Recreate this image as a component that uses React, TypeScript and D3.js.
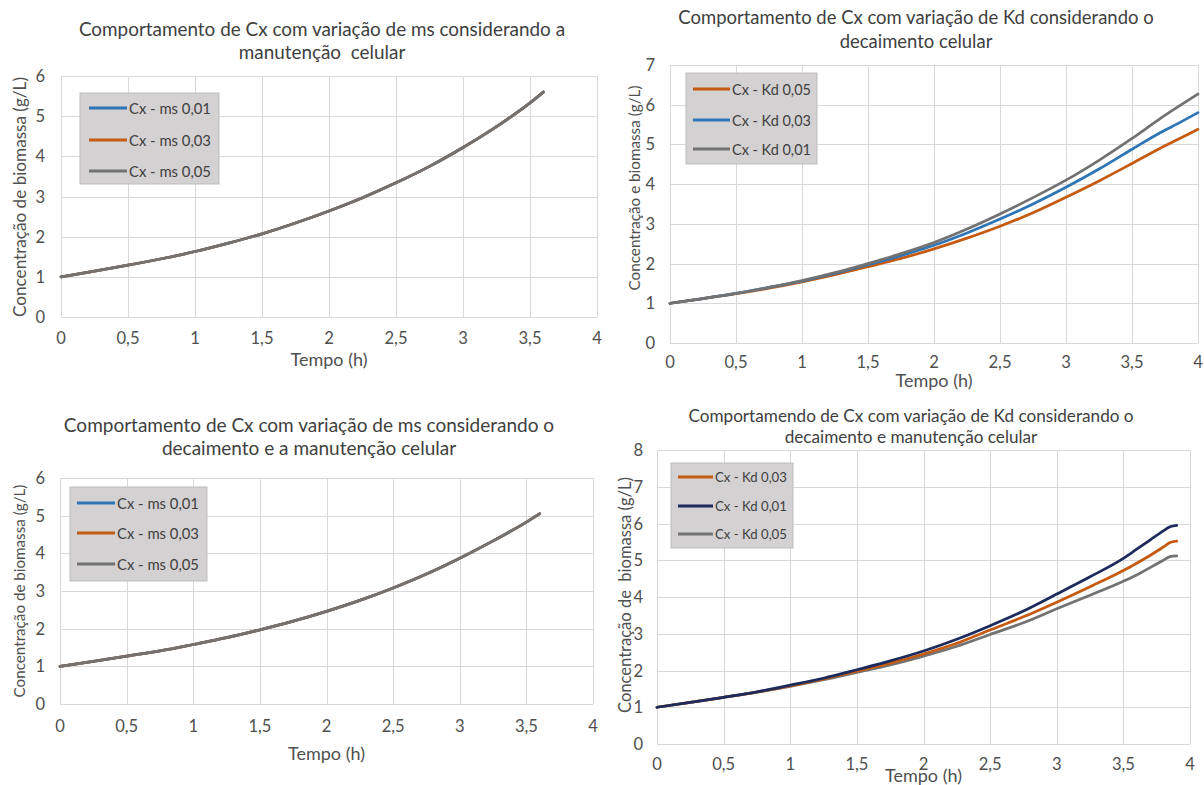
import React from 'react';
import * as d3 from 'd3';

const FONT = 'Lato, "Open Sans", "DejaVu Sans", sans-serif';

// ---------- Data ----------
const xTickValues = [0, 0.5, 1, 1.5, 2, 2.5, 3, 3.5, 4];
const xTickLabels = ['0', '0,5', '1', '1,5', '2', '2,5', '3', '3,5', '4'];

// Panel A: ms variation, cell maintenance
const timeA = [0, 0.25, 0.5, 0.75, 1, 1.25, 1.5, 1.75, 2, 2.25, 2.5, 2.75, 3, 3.25, 3.5, 3.6];
const cxA_ms001 = [1, 1.14, 1.29, 1.45, 1.63, 1.84, 2.07, 2.34, 2.64, 2.97, 3.34, 3.75, 4.22, 4.74, 5.33, 5.6];
const cxA_ms003 = [1, 1.14, 1.29, 1.45, 1.63, 1.84, 2.07, 2.34, 2.64, 2.97, 3.34, 3.75, 4.22, 4.74, 5.33, 5.6];
const cxA_ms005 = [1, 1.14, 1.29, 1.45, 1.63, 1.84, 2.07, 2.34, 2.64, 2.97, 3.34, 3.75, 4.22, 4.74, 5.33, 5.6];

// Panel B: Kd variation, cell decay
const timeB = [0, 0.25, 0.5, 0.75, 1, 1.25, 1.5, 1.75, 2, 2.25, 2.5, 2.75, 3, 3.25, 3.5, 3.7, 3.85, 4];
const cxB_kd005 = [1, 1.12, 1.24, 1.38, 1.54, 1.72, 1.92, 2.13, 2.37, 2.64, 2.94, 3.28, 3.67, 4.08, 4.52, 4.88, 5.13, 5.38];
const cxB_kd003 = [1, 1.12, 1.25, 1.4, 1.56, 1.75, 1.97, 2.2, 2.46, 2.77, 3.12, 3.5, 3.92, 4.38, 4.88, 5.27, 5.53, 5.8];
const cxB_kd001 = [1, 1.12, 1.25, 1.4, 1.57, 1.77, 2.0, 2.25, 2.53, 2.87, 3.25, 3.66, 4.1, 4.6, 5.15, 5.62, 5.95, 6.27];

// Panel C: ms variation, decay and maintenance
const timeC = [0, 0.25, 0.5, 0.75, 1, 1.25, 1.5, 1.75, 2, 2.25, 2.5, 2.75, 3, 3.25, 3.5, 3.6];
const cxC_ms001 = [1, 1.13, 1.27, 1.41, 1.58, 1.76, 1.97, 2.2, 2.46, 2.75, 3.08, 3.45, 3.87, 4.33, 4.83, 5.05];
const cxC_ms003 = [1, 1.13, 1.27, 1.41, 1.58, 1.76, 1.97, 2.2, 2.46, 2.75, 3.08, 3.45, 3.87, 4.33, 4.83, 5.05];
const cxC_ms005 = [1, 1.13, 1.27, 1.41, 1.58, 1.76, 1.97, 2.2, 2.46, 2.75, 3.08, 3.45, 3.87, 4.33, 4.83, 5.05];

// Panel D: Kd variation, decay and maintenance
const timeD = [0, 0.25, 0.5, 0.75, 1, 1.25, 1.5, 1.75, 2, 2.25, 2.5, 2.75, 3, 3.25, 3.5, 3.6, 3.7, 3.8, 3.85, 3.9];
const cxD_kd003 = [1, 1.13, 1.27, 1.41, 1.58, 1.77, 1.98, 2.2, 2.45, 2.74, 3.1, 3.46, 3.86, 4.28, 4.72, 4.92, 5.13, 5.36, 5.48, 5.52];
const cxD_kd001 = [1, 1.13, 1.27, 1.42, 1.6, 1.79, 2.02, 2.26, 2.53, 2.85, 3.22, 3.62, 4.08, 4.55, 5.05, 5.3, 5.55, 5.8, 5.91, 5.95];
const cxD_kd005 = [1, 1.13, 1.27, 1.41, 1.57, 1.75, 1.95, 2.15, 2.39, 2.66, 2.98, 3.3, 3.68, 4.05, 4.43, 4.6, 4.8, 5.0, 5.1, 5.12];

const BLUE = '#2e75b6';
const ORANGE = '#c55a11';
const GRAY = '#727272';
const NAVY = '#1c2a5c';

// ---------- text fitting ----------
let measureCtx: CanvasRenderingContext2D | null = null;
function fit(text: string, width: number): number {
  if (!measureCtx) measureCtx = document.createElement('canvas').getContext('2d');
  if (!measureCtx) return 14;
  measureCtx.font = `100px ${FONT}`;
  const w = measureCtx.measureText(text).width;
  return (100 * width) / w;
}

type Series = { name: string; color: string; x: number[]; y: number[] };
type PanelCfg = {
  title: string[];
  titleCx: number;
  titleY: number[];
  titleW: number;
  left: number; right: number; top: number; bottom: number;
  yMax: number;
  yTitle: string; yTitleX: number; yTitleCy: number; yTitleW: number;
  yTickRight: number;
  xTickY: number;
  xTitleY: number;
  legend: { x: number; y: number; w: number; h: number; rows: number[]; lineX0: number; lineX1: number; textW: number };
  series: Series[]; // legend order
  drawOrder: number[];
};

const panels: PanelCfg[] = [
  {
    title: ['Comportamento de Cx com variação de ms considerando a', 'manutenção\u00a0 celular'],
    titleCx: 322, titleY: [28, 51], titleW: 487,
    left: 61, right: 597, top: 76, bottom: 317, yMax: 6,
    yTitle: 'Concentração de biomassa (g/L)', yTitleX: 19, yTitleCy: 197, yTitleW: 240,
    yTickRight: 45, xTickY: 338, xTitleY: 359,
    legend: { x: 80, y: 93, w: 139, h: 91, rows: [108, 140, 171], lineX0: 89, lineX1: 127, textW: 82 },
    series: [
      { name: 'Cx - ms 0,01', color: BLUE, x: timeA, y: cxA_ms001 },
      { name: 'Cx - ms 0,03', color: ORANGE, x: timeA, y: cxA_ms003 },
      { name: 'Cx - ms 0,05', color: GRAY, x: timeA, y: cxA_ms005 },
    ],
    drawOrder: [0, 1, 2],
  },
  {
    title: ['Comportamento de Cx com variação de Kd considerando o', 'decaimento celular'],
    titleCx: 916, titleY: [17, 41], titleW: 476,
    left: 670, right: 1198, top: 65, bottom: 343, yMax: 7,
    yTitle: 'Concentração e biomassa (g/L)', yTitleX: 634, yTitleCy: 188, yTitleW: 205,
    yTickRight: 655, xTickY: 362, xTitleY: 380,
    legend: { x: 686, y: 73, w: 131, h: 91, rows: [89, 120, 149], lineX0: 693, lineX1: 730, textW: 79 },
    series: [
      { name: 'Cx - Kd 0,05', color: ORANGE, x: timeB, y: cxB_kd005 },
      { name: 'Cx - Kd 0,03', color: BLUE, x: timeB, y: cxB_kd003 },
      { name: 'Cx - Kd 0,01', color: GRAY, x: timeB, y: cxB_kd001 },
    ],
    drawOrder: [0, 1, 2],
  },
  {
    title: ['Comportamento de Cx com variação de ms considerando o', 'decaimento e a manutenção celular'],
    titleCx: 309, titleY: [424, 447], titleW: 491,
    left: 60, right: 593, top: 478, bottom: 704, yMax: 6,
    yTitle: 'Concentração de biomassa (g/L)', yTitleX: 19, yTitleCy: 591, yTitleW: 213,
    yTickRight: 45, xTickY: 726, xTitleY: 753,
    legend: { x: 70, y: 487, w: 137, h: 94, rows: [503, 533, 564], lineX0: 77, lineX1: 115, textW: 82 },
    series: [
      { name: 'Cx - ms 0,01', color: BLUE, x: timeC, y: cxC_ms001 },
      { name: 'Cx - ms 0,03', color: ORANGE, x: timeC, y: cxC_ms003 },
      { name: 'Cx - ms 0,05', color: GRAY, x: timeC, y: cxC_ms005 },
    ],
    drawOrder: [0, 1, 2],
  },
  {
    title: ['Comportamendo de Cx com variação de Kd considerando o', 'decaimento e manutenção celular'],
    titleCx: 911, titleY: [415, 436], titleW: 446,
    left: 657, right: 1190, top: 450, bottom: 744, yMax: 8,
    yTitle: 'Concentração de\u00a0 biomassa (g/L)', yTitleX: 625, yTitleCy: 595, yTitleW: 236,
    yTickRight: 643, xTickY: 764, xTitleY: 775,
    legend: { x: 671, y: 463, w: 122, h: 85, rows: [477, 506, 534], lineX0: 678, lineX1: 713, textW: 72 },
    series: [
      { name: 'Cx - Kd 0,03', color: ORANGE, x: timeD, y: cxD_kd003 },
      { name: 'Cx - Kd 0,01', color: NAVY, x: timeD, y: cxD_kd001 },
      { name: 'Cx - Kd 0,05', color: GRAY, x: timeD, y: cxD_kd005 },
    ],
    drawOrder: [2, 0, 1],
  },
];

const TICK_SIZE = fit('3,5', 23);
const XTITLE_SIZE = fit('Tempo (h)', 77);

function Panel({ cfg }: { cfg: PanelCfg }) {
  const x = d3.scaleLinear().domain([0, 4]).range([cfg.left, cfg.right]);
  const y = d3.scaleLinear().domain([0, cfg.yMax]).range([cfg.bottom, cfg.top]);
  const yTicks = d3.range(0, cfg.yMax + 1, 1);
  const line = d3
    .line<[number, number]>()
    .x((d) => x(d[0]))
    .y((d) => y(d[1]))
    .curve(d3.curveMonotoneX);
  const titleSize = fit(cfg.title[0], cfg.titleW);
  const yTitleSize = fit(cfg.yTitle, cfg.yTitleW);
  const legSize = fit(cfg.series[0].name, cfg.legend.textW);
  const snap = (v: number) => Math.round(v) + 0.5;
  const TXT = '#404040';
  const AX = '#505050';
  return (
    <g>
      {cfg.title.map((t, i) => (
        <text key={i} x={cfg.titleCx} y={cfg.titleY[i]} textAnchor="middle" dominantBaseline="central"
          fontFamily={FONT} fontSize={titleSize} fill={TXT}>{t}</text>
      ))}
      {/* grid */}
      {xTickValues.map((v) => (
        <line key={'vx' + v} x1={snap(x(v))} x2={snap(x(v))} y1={y(cfg.yMax)} y2={y(0)} stroke="#d9d9d9" strokeWidth={1} />
      ))}
      {yTicks.map((v) => (
        <line key={'hy' + v} x1={x(0)} x2={x(4)} y1={snap(y(v))} y2={snap(y(v))} stroke="#d9d9d9" strokeWidth={1} />
      ))}
      {/* ticks */}
      {xTickValues.map((v, i) => (
        <text key={'xt' + v} x={x(v)} y={cfg.xTickY} textAnchor="middle" dominantBaseline="central"
          fontFamily={FONT} fontSize={TICK_SIZE} fill={AX}>{xTickLabels[i]}</text>
      ))}
      {yTicks.map((v) => (
        <text key={'yt' + v} x={cfg.yTickRight} y={y(v)} textAnchor="end" dominantBaseline="central"
          fontFamily={FONT} fontSize={TICK_SIZE} fill={AX}>{String(v)}</text>
      ))}
      <text x={(cfg.left + cfg.right) / 2} y={cfg.xTitleY} textAnchor="middle" dominantBaseline="central"
        fontFamily={FONT} fontSize={XTITLE_SIZE} fill={AX}>Tempo (h)</text>
      <text transform={`translate(${cfg.yTitleX},${cfg.yTitleCy}) rotate(-90)`} textAnchor="middle" dominantBaseline="central"
        fontFamily={FONT} fontSize={yTitleSize} fill={AX}>{cfg.yTitle}</text>
      {/* series */}
      {cfg.drawOrder.map((idx) => {
        const s = cfg.series[idx];
        const pts: [number, number][] = s.x.map((t, i) => [t, s.y[i]]);
        return <path key={'s' + idx} d={line(pts) || ''} fill="none" stroke={s.color} strokeWidth={2.75} strokeLinejoin="round" strokeLinecap="round" />;
      })}
      {/* legend */}
      <rect x={cfg.legend.x} y={cfg.legend.y} width={cfg.legend.w} height={cfg.legend.h} fill="#d3d1d1" stroke="#bdbdbd" strokeWidth={1} />
      {cfg.series.map((s, i) => (
        <g key={'lg' + i}>
          <line x1={cfg.legend.lineX0} x2={cfg.legend.lineX1} y1={cfg.legend.rows[i]} y2={cfg.legend.rows[i]} stroke={s.color} strokeWidth={3} />
          <text x={cfg.legend.lineX1 + 2} y={cfg.legend.rows[i]} dominantBaseline="central" fontFamily={FONT} fontSize={legSize} fill={TXT}>{s.name}</text>
        </g>
      ))}
    </g>
  );
}

export default function App() {
  return (
    <svg width={1204} height={785} viewBox="0 0 1204 785" style={{ position: 'absolute', left: 0, top: 0, background: '#fff' }}>
      <rect x={0} y={0} width={1204} height={785} fill="#fff" />
      {panels.map((p, i) => (
        <Panel key={i} cfg={p} />
      ))}
    </svg>
  );
}
